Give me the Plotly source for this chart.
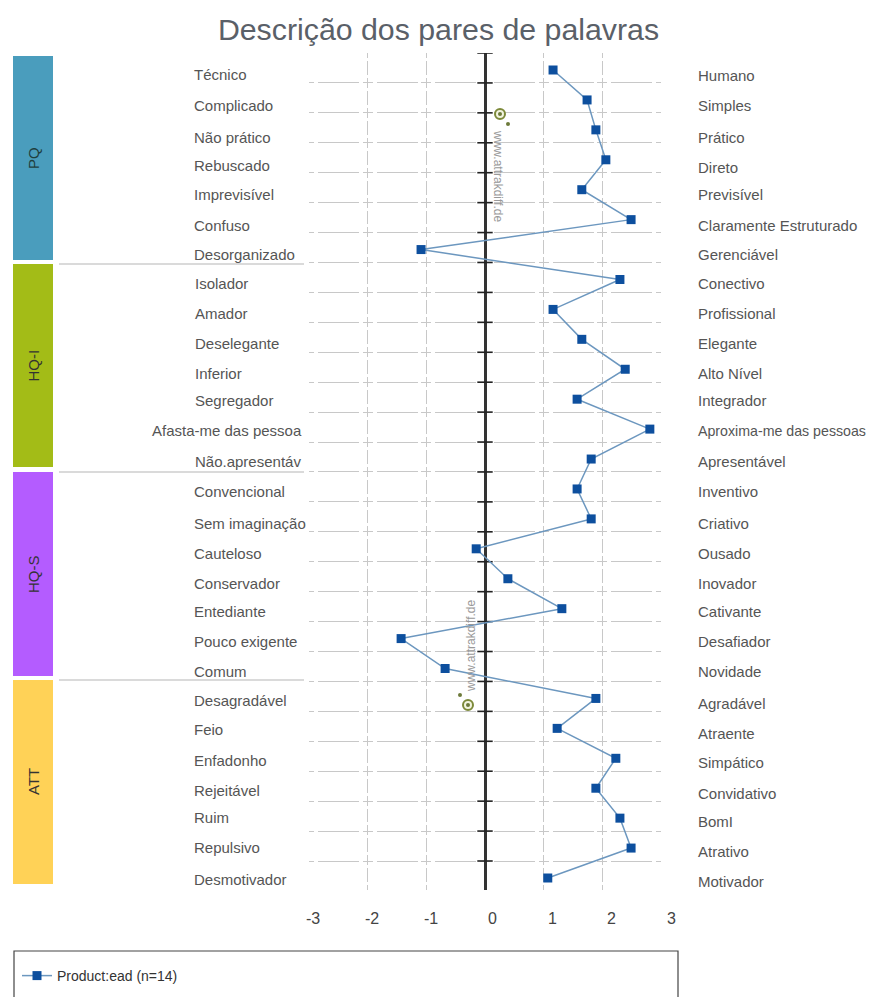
import plotly.graph_objects as go

W, H = 871, 989   # the page body keeps an 8px margin
OFF = 8

left_labels = ["Técnico","Complicado","Não prático","Rebuscado","Imprevisível","Confuso","Desorganizado",
    "Isolador","Amador","Deselegante","Inferior","Segregador","Afasta-me das pessoa","Não.apresentáv",
    "Convencional","Sem imaginação","Cauteloso","Conservador","Entediante","Pouco exigente","Comum",
    "Desagradável","Feio","Enfadonho","Rejeitável","Ruim","Repulsivo","Desmotivador"]
right_labels = ["Humano","Simples","Prático","Direto","Previsível","Claramente Estruturado","Gerenciável",
    "Conectivo","Profissional","Elegante","Alto Nível","Integrador","Aproxima-me das pessoas","Apresentável",
    "Inventivo","Criativo","Ousado","Inovador","Cativante","Desafiador","Novidade",
    "Agradável","Atraente","Simpático","Convidativo","BomI","Atrativo","Motivador"]
values = [1.16,1.74,1.89,2.06,1.65,2.49,-1.09,
          2.30,1.16,1.65,2.39,1.57,2.81,1.81,
          1.57,1.81,-0.15,0.39,1.31,-1.43,-0.68,
          1.89,1.23,2.23,1.89,2.30,2.49,1.07]
rows = list(range(len(values)))
groups = ["PQ","HQ-I","HQ-S","ATT"]
x_ticks = [-3,-2,-1,0,1,2,3]

# layout-only settings
group_colors = ["#4a9dbd","#a3bc17","#b45cff","#ffd257"]
group_spans = [(56,260),(264,467),(472,676),(680,884)]
sep_y = [264,472,680]
left_x = [192,192,192,192,192,192,192,193,193,193,193,193,150,193,192,192,192,192,192,192,192,192,192,192,192,192,192,192]
left_y = [75,106,137,166,194,225,254,283,313,343,373,401,431,461,492,523,553,583,611,641,671,700,729,760,790,817,847,879]
right_y = [76,106,137,167,194,225,254,283,313,343,373,401,431,461,492,523,553,583,611,641,671,703,733,762,793,821,851,881]
tick_label_x = [313,372,431,492,552,611,671]

px = lambda v: (v - OFF) / W
py = lambda v: 1 - (v - OFF) / H
TOP, BOTTOM, LEFT, RIGHT = 53, 890, 309, 661
row_h = (878 - 70) / 27
y_top = -(70 - TOP) / row_h
y_bot = 27 + (BOTTOM - 878) / row_h

fig = go.Figure()
fig.add_trace(go.Scatter(x=[0]*29, y=[y_top + k for k in range(29)], mode="markers", showlegend=False, hoverinfo="skip",
    marker=dict(symbol="line-ew", size=11, line=dict(color="#222222", width=1.6))))
fig.add_trace(go.Scatter(x=values, y=rows, mode="lines+markers", name="Product:ead (n=14)",
    line=dict(color="#6c97bf", width=1.5),
    marker=dict(symbol="square", size=9, color="#0d4f9e")))

shapes, ann = [], []
for (a, b), c, g in zip(group_spans, group_colors, groups):
    shapes.append(dict(type="rect", xref="paper", yref="paper", x0=px(13), x1=px(53), y0=py(b), y1=py(a),
                       fillcolor=c, line=dict(width=0), layer="below"))
    ann.append(dict(text=g, xref="paper", yref="paper", x=px(33), y=py((a+b)/2), textangle=-90, showarrow=False,
                    xanchor="center", yanchor="middle", font=dict(size=15, color="#1f3f3f" if g == "PQ" else "#333333")))
for s in sep_y:
    shapes.append(dict(type="line", xref="paper", yref="paper", x0=px(59), x1=px(304), y0=py(s), y1=py(s),
                       line=dict(color="#b5b5b5", width=1)))
# legend frame, open past the bottom edge of the page
shapes.append(dict(type="rect", xref="paper", yref="paper", x0=px(14), x1=px(678), y0=py(1010), y1=py(951),
                   line=dict(color="#444444", width=1.2), fillcolor="rgba(0,0,0,0)"))
# watermark icons
for cx, cy, dx, dy in [(500,114,508,124),(468,705,460,695)]:
    shapes.append(dict(type="circle", xref="paper", yref="paper", x0=px(cx-5), x1=px(cx+5), y0=py(cy+5), y1=py(cy-5),
                       line=dict(color="#7d8a3a", width=2), fillcolor="#f2f4df"))
    shapes.append(dict(type="circle", xref="paper", yref="paper", x0=px(cx-2), x1=px(cx+2), y0=py(cy+2), y1=py(cy-2),
                       line=dict(width=0), fillcolor="#6d7a3a"))
    shapes.append(dict(type="circle", xref="paper", yref="paper", x0=px(dx-2), x1=px(dx+2), y0=py(dy+2), y1=py(dy-2),
                       line=dict(width=0), fillcolor="#6d7a3a"))
for tx, ty, ang in [(498,176,90),(471,646,-90)]:
    ann.append(dict(text="www.attrakdiff.de", xref="paper", yref="paper", x=px(tx), y=py(ty), textangle=ang, showarrow=False,
                    xanchor="center", yanchor="middle", font=dict(size=12, color="#999999")))
for t, x, y in zip(left_labels, left_x, left_y):
    ann.append(dict(text=t, xref="paper", yref="paper", x=px(x), y=py(y), showarrow=False, xanchor="left", yanchor="middle",
                    font=dict(size=15, color="#555555")))
for t, y in zip(right_labels, right_y):
    ann.append(dict(text=t, xref="paper", yref="paper", x=px(696), y=py(y), showarrow=False, xanchor="left", yanchor="middle",
                    font=dict(size=14.2 if t.startswith("Aproxima") else 15, color="#555555")))
for v, x in zip(x_ticks, tick_label_x):
    ann.append(dict(text=str(v), xref="paper", yref="paper", x=px(x), y=py(918), showarrow=False, xanchor="center", yanchor="middle",
                    font=dict(size=16, color="#444444")))

fig.update_layout(
    width=W, height=H, margin=dict(l=0, r=0, t=0, b=0, autoexpand=False), autosize=False,
    paper_bgcolor="white", plot_bgcolor="white",
    font=dict(family="Liberation Sans, Arial, sans-serif"),
    title=dict(text="Descrição dos pares de palavras", x=px(438.5), xanchor="center", y=py(29), yanchor="middle",
               font=dict(size=30.3, color="#5a6068")),
    xaxis=dict(domain=[px(LEFT), px(RIGHT)], range=[-3, 3], tickvals=x_ticks, showticklabels=False, ticks="",
               showgrid=True, gridcolor="#c8c8c8", gridwidth=1.3, griddash="5px,3px,13.9px,3px,5px,0px",
               zeroline=True, zerolinecolor="#333333", zerolinewidth=3, showline=False, anchor="y", fixedrange=True),
    yaxis=dict(domain=[py(BOTTOM), py(TOP)], range=[y_bot, y_top], tick0=y_top, dtick=1, showticklabels=False, ticks="",
               showgrid=True, gridcolor="#c8c8c8", gridwidth=1.3, griddash="5px,4px,41px,3.67px,5px,0px",
               zeroline=False, showline=False, fixedrange=True),
    showlegend=True,
    legend=dict(x=px(17), y=py(976), xanchor="left", yanchor="middle", font=dict(size=14, color="#333333"),
                bgcolor="rgba(0,0,0,0)", borderwidth=0, itemwidth=30),
    shapes=shapes, annotations=ann,
)
fig.write_html("out.html", default_width=f"{W}px", default_height=f"{H}px")
